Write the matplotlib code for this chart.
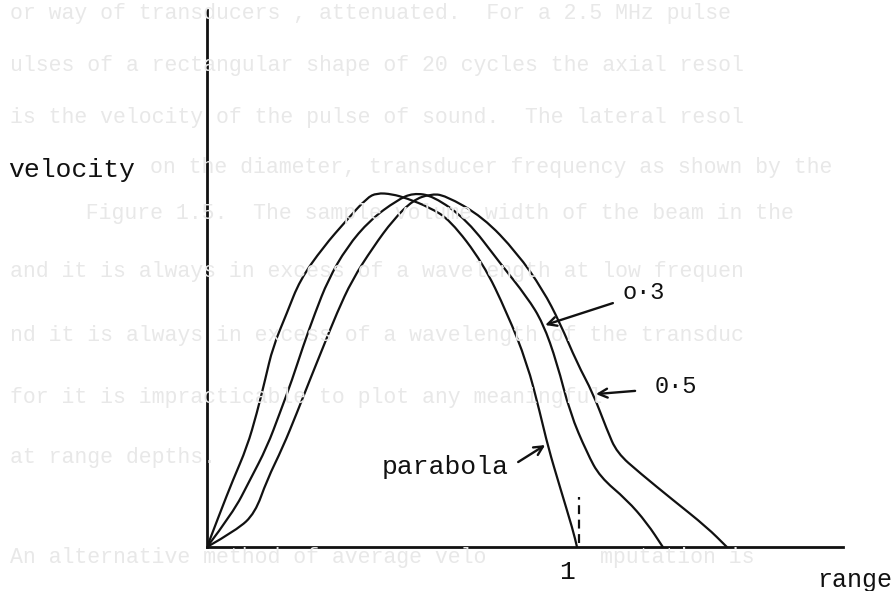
import matplotlib
matplotlib.use("Agg")
import matplotlib.pyplot as plt
from matplotlib.path import Path
from matplotlib.patches import PathPatch

# velocity profiles, range scaled so the parabola ends at 1
parabola_x = [0.0, 0.035, 0.070, 0.108, 0.135, 0.157, 0.178, 0.216, 0.251, 0.314,
              0.378, 0.432, 0.459, 0.500, 0.540, 0.600, 0.657, 0.746, 0.811, 0.865,
              0.900, 0.922, 0.954, 0.989, 1.0]
parabola_y = [0.0, 0.096, 0.189, 0.282, 0.379, 0.472, 0.565, 0.661, 0.754, 0.847,
              0.924, 0.986, 1.0, 0.997, 0.985, 0.960, 0.924, 0.802, 0.661, 0.520,
              0.379, 0.282, 0.169, 0.048, 0.0]

p03_x = [0.0, 0.070, 0.116, 0.162, 0.197, 0.230, 0.259, 0.292, 0.327, 0.378,
         0.441, 0.514, 0.557, 0.611, 0.703, 0.792, 0.865, 0.908, 0.946, 0.981,
         1.027, 1.062, 1.135, 1.189, 1.232]
p03_y = [0.0, 0.096, 0.189, 0.282, 0.379, 0.472, 0.565, 0.661, 0.754, 0.847,
         0.924, 0.980, 1.0, 0.992, 0.924, 0.802, 0.706, 0.633, 0.520, 0.379,
         0.266, 0.198, 0.133, 0.068, 0.0]

p05_x = [0.0, 0.081, 0.130, 0.162, 0.205, 0.243, 0.278, 0.314, 0.351, 0.392,
         0.449, 0.503, 0.557, 0.603, 0.643, 0.746, 0.838, 0.908, 0.954, 1.0,
         1.043, 1.081, 1.108, 1.170, 1.259, 1.351, 1.405]
p05_y = [0.0, 0.048, 0.096, 0.189, 0.282, 0.379, 0.472, 0.565, 0.661, 0.754,
         0.847, 0.924, 0.980, 0.997, 0.994, 0.932, 0.831, 0.726, 0.633, 0.520,
         0.435, 0.331, 0.266, 0.209, 0.133, 0.056, 0.0]

# faint typescript showing through from the facing page
page_lines = [
    "or way of transducers , attenuated.  For a 2.5 MHz pulse",
    "ulses of a rectangular shape of 20 cycles the axial resol",
    "is the velocity of the pulse of sound.  The lateral resol",
    "on the diameter, transducer frequency as shown by the",
    "  Figure 1.5.  The sample volume width of the beam in the",
    "and it is always in excess of a wavelength at low frequen",
    "nd it is always in excess of a wavelength of the transduc",
    "for it is impracticable to plot any meaningful",
    "at range depths.",
    "An alternative method of average velo",
    "mputation is",
]
page_line_x = [10, 10, 10, 150, 60, 10, 10, 10, 10, 10, 600]
page_line_y = [13, 65, 117, 167, 213, 272, 335, 398, 458, 558, 558]


def smooth_path(xs, ys):
    # quadratic Bezier through the midpoints, read points as control points
    verts = [(xs[0], ys[0])]
    codes = [Path.MOVETO]
    for i in range(1, len(xs) - 1):
        mid = ((xs[i] + xs[i + 1]) / 2, (ys[i] + ys[i + 1]) / 2)
        verts += [(xs[i], ys[i]), mid]
        codes += [Path.CURVE3, Path.CURVE3]
    verts.append((xs[-1], ys[-1]))
    codes.append(Path.LINETO)
    return Path(verts, codes)


W, H = 896, 591
fig = plt.figure(figsize=(W / 100, H / 100), dpi=100)
fig.patch.set_facecolor("white")

mono = "Liberation Mono"

for txt, px, py in zip(page_lines, page_line_x, page_line_y):
    fig.text(px / W, 1 - py / H, txt, family=mono, fontsize=15.5,
             color="#e8e8e8", va="center", ha="left", zorder=0)

x0, y0 = 207, 547
xunit, yunit = 370, 354
ax = fig.add_axes([x0 / W, 1 - y0 / H, (843 - x0) / W, (y0 - 10) / H])
ax.set_xlim(0, (843 - x0) / xunit)
ax.set_ylim(0, (y0 - 10) / yunit)
ax.patch.set_alpha(0)
for side in ("top", "right"):
    ax.spines[side].set_visible(False)
for side in ("left", "bottom"):
    ax.spines[side].set_linewidth(2.0)
    ax.spines[side].set_color("#111111")
ax.set_xticks([])
ax.set_yticks([])

for xs, ys in [(parabola_x, parabola_y), (p03_x, p03_y), (p05_x, p05_y)]:
    ax.add_patch(PathPatch(smooth_path(xs, ys), facecolor="none",
                           edgecolor="#111111", lw=1.6, capstyle="round",
                           joinstyle="round"))

# dashed marker at the end of the parabola
ax.plot([1.005, 1.005], [0.01, 0.14], color="#111111", lw=1.6,
        linestyle=(0, (4, 2.5)))

arrow_kw = dict(arrowstyle="->", color="#111111", lw=1.7,
                shrinkA=0, shrinkB=0, mutation_scale=16)
ax.annotate("", xy=(0.914, 0.627), xytext=(1.097, 0.689), arrowprops=arrow_kw)
ax.annotate("", xy=(1.051, 0.432), xytext=(1.157, 0.441), arrowprops=arrow_kw)
ax.annotate("", xy=(0.914, 0.288), xytext=(0.841, 0.240), arrowprops=arrow_kw)

ax.text(1.124, 0.718, "o·3", family=mono, fontsize=17, color="#111111",
        va="center", ha="left")
ax.text(1.211, 0.452, "0·5", family=mono, fontsize=17, color="#111111",
        va="center", ha="left")
ax.text(0.473, 0.226, "parabola", family=mono, fontsize=19, color="#111111",
        va="center", ha="left")
ax.text(0.973, -0.071, "1", family=mono, fontsize=19, color="#111111",
        va="center", ha="center", clip_on=False)

fig.text(8 / W, 1 - 170 / H, "velocity", family=mono, fontsize=19,
         color="#111111", va="center", ha="left")
fig.text(817 / W, 1 - 580 / H, "range", family=mono, fontsize=18,
         color="#111111", va="center", ha="left")

fig.savefig("out.png", dpi=100)
